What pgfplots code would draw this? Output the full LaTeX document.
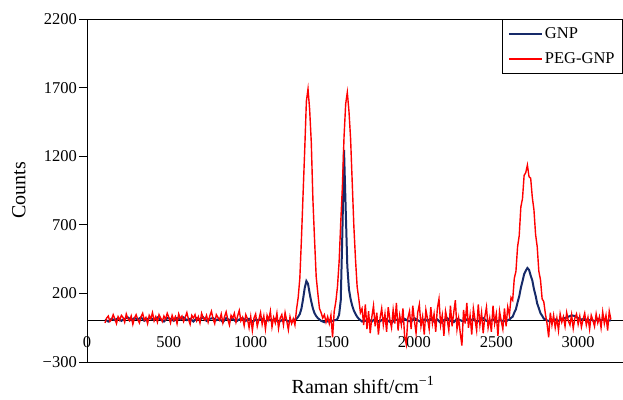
\documentclass[border=0pt]{standalone}
\usepackage{pgfplots}
\pgfplotsset{compat=1.18}
\usepackage{fontspec}
\setmainfont{Liberation Serif}
\definecolor{gnp}{RGB}{22,42,105}
\definecolor{peg}{RGB}{255,0,0}
\newcommand{\fs}{\fontsize{16.5bp}{19bp}\selectfont}
\newcommand{\fl}{\fontsize{20bp}{23bp}\selectfont}
\begin{document}
\begin{tikzpicture}
\useasboundingbox (-87bp,-38bp) rectangle (536bp,362bp);
\begin{axis}[
  scale only axis, width=536bp, height=343bp,
  at={(0,0)}, anchor=south west,
  xmin=0, xmax=3274, ymin=-300, ymax=2200,
  axis y line=left, axis x line=middle,
  axis line style={-, line width=0.9bp, black},
  hide obscured x ticks=false,
  hide obscured y ticks=false,
  xtick={0,500,1000,1500,2000,2500,3000},
  xticklabels={0,500,1000,1500,2000,2500,3000},
  ytick={-300,200,700,1200,1700,2200},
  yticklabels={−300,200,700,1200,1700,2200},
  xtick style={draw=none},
  ytick style={line width=0.9bp, black},
  tick align=outside,
  major tick length=8bp,
  tick label style={font=\fs},
  xticklabel style={yshift=-4bp},
  yticklabel style={inner xsep=2bp},
  xlabel={Raman shift/cm\textsuperscript{−1}},
  ylabel={Counts},
  label style={font=\fl},
  xlabel style={at={(axis description cs:0.515,0)}, anchor=center, yshift=-23bp},
  ylabel style={at={(axis description cs:-0.127,0.5)}, anchor=center},
  legend style={at={(rel axis cs:1,1)}, anchor=north east, draw=black, line width=0.8bp,
    font=\fs, inner xsep=6bp, inner ysep=6bp, row sep=9bp, fill=white},
  legend cell align=left,
  legend image code/.code={\draw[#1] (0bp,0bp) -- (33bp,0bp);},
  clip=true,
]
\addplot[gnp, line width=2bp] coordinates {
(110,10)(130,-5)(150,15)(170,5)(190,20)(210,0)(230,15)(250,25)(270,5)(290,20)
(310,10)(330,25)(350,0)(370,15)(390,20)(410,5)(430,25)(450,10)(470,-5)(490,20)
(510,15)(530,0)(550,20)(570,10)(590,25)(610,5)(630,15)(650,-5)(670,20)(690,10)
(710,25)(730,0)(750,15)(770,20)(790,5)(810,15)(830,-10)(850,20)(870,5)(890,15)
(910,-5)(930,10)(950,20)(970,0)(990,15)(1010,-10)(1030,10)(1050,5)(1070,15)(1090,-5)
(1110,10)(1130,0)(1150,15)(1170,-10)(1190,5)(1210,10)(1230,-5)(1250,0)
(1260,0)(1270,10)(1280,15)(1290,30)(1300,50)(1310,90)(1320,160)(1330,240)(1340,290)(1350,270)
(1360,200)(1370,140)(1380,90)(1390,55)(1400,35)(1410,20)(1420,10)(1430,0)(1440,-5)(1450,-10)
(1460,0)(1470,-5)(1480,5)(1490,-5)(1500,0)(1510,5)(1520,5)(1530,15)(1540,45)(1550,150)
(1560,650)(1570,1245)(1580,820)(1590,400)(1600,230)(1610,160)(1620,110)(1630,75)(1640,50)(1650,30)
(1660,15)(1670,5)(1680,-5)(1700,0)
(1720,10)(1740,-5)(1760,15)(1780,-10)(1800,5)(1820,20)(1840,0)(1860,-15)(1880,10)(1900,5)
(1920,-10)(1940,15)(1960,0)(1980,-5)(2000,20)(2020,5)(2040,-10)(2060,10)(2080,0)(2100,15)
(2120,-5)(2140,10)(2160,-15)(2180,5)(2200,20)(2220,0)(2240,-10)(2260,15)(2280,5)(2300,-5)
(2320,10)(2340,0)(2360,15)(2380,-10)(2400,5)(2420,20)(2440,0)(2460,-5)(2480,10)(2500,-10)
(2520,5)(2540,0)(2560,-5)(2570,5)(2580,10)
(2590,22)(2600,30)(2610,60)(2620,85)(2630,135)(2640,178)(2650,240)(2660,288)(2670,340)(2680,365)
(2690,385)(2700,372)(2710,330)(2720,295)(2730,232)(2740,185)(2750,126)(2760,92)(2770,55)(2780,38)
(2790,16)(2800,12)(2810,3)
(2820,0)(2840,-5)(2860,10)(2880,0)(2900,15)(2920,20)(2940,30)(2960,40)(2980,35)(3000,20)
(3020,10)(3040,15)(3060,0)(3080,10)(3100,-5)(3120,15)(3140,5)(3160,10)(3180,0)(3200,5)
};
\addlegendentry{GNP}
\addplot[peg, line width=1.4bp] coordinates {
(110,-15)(120,20)(130,35)(140,-5)(150,10)(160,45)(170,15)(180,-20)(190,30)(200,5)
(210,40)(220,25)(230,-10)(240,50)(250,15)(260,0)(270,35)(280,-25)(290,20)(300,45)
(310,10)(320,-15)(330,30)(340,55)(350,5)(360,25)(370,-20)(380,40)(390,15)(400,60)
(410,0)(420,30)(430,-10)(440,45)(450,20)(460,-5)(470,35)(480,10)(490,55)(500,25)
(510,-15)(520,40)(530,5)(540,30)(550,-20)(560,50)(570,15)(580,35)(590,-5)(600,25)
(610,60)(620,10)(630,-25)(640,40)(650,20)(660,45)(670,0)(680,30)(690,-15)(700,55)
(710,20)(720,5)(730,40)(740,-10)(750,35)(760,70)(770,15)(780,-20)(790,45)(800,25)
(810,5)(820,50)(830,-15)(840,30)(850,65)(860,10)(870,-30)(880,40)(890,20)(900,55)
(910,-10)(920,35)(930,75)(940,0)(950,25)(960,-35)(970,45)(980,15)(990,-50)(1000,30)
(1010,-70)(1020,20)(1030,50)(1040,-40)(1050,10)(1060,60)(1070,-25)(1080,35)(1090,-60)(1100,40)
(1110,5)(1120,70)(1130,-45)(1140,25)(1150,-15)(1160,55)(1170,-55)(1180,20)(1190,45)(1200,-30)
(1210,60)(1220,0)(1230,-65)(1240,30)(1250,-20)(1260,15)(1270,-30)(1280,85)(1290,170)(1300,310)
(1310,600)(1320,930)(1330,1250)(1340,1600)(1350,1690)(1360,1540)(1370,1300)(1380,880)(1390,590)(1400,320)
(1410,200)(1420,90)(1430,60)(1440,20)(1450,45)(1460,-10)(1470,30)(1480,-20)(1490,40)(1500,-120)
(1510,70)(1520,140)(1530,250)(1540,430)(1550,720)(1560,980)(1570,1340)(1580,1580)(1590,1665)(1600,1530)
(1610,1330)(1620,1010)(1630,690)(1640,450)(1650,250)(1660,160)(1670,60)(1680,90)(1690,-30)(1700,120)
(1710,-60)(1720,70)(1730,-90)(1740,30)(1750,110)(1760,-40)(1770,60)(1780,-100)(1790,20)(1800,90)
(1810,-30)(1820,50)(1830,-80)(1840,100)(1850,10)(1860,-50)(1870,80)(1880,-20)(1890,130)(1900,-70)
(1910,40)(1920,-30)(1930,90)(1940,-110)(1950,-170)(1960,20)(1970,70)(1980,-60)(1990,110)(2000,0)
(2010,-90)(2020,60)(2030,120)(2040,-40)(2050,30)(2060,-100)(2070,80)(2080,15)(2090,-60)(2100,100)
(2110,-20)(2120,50)(2130,-80)(2140,90)(2150,160)(2160,-30)(2170,40)(2180,-110)(2190,70)(2200,10)
(2210,-70)(2220,110)(2230,-40)(2240,60)(2250,150)(2260,-60)(2270,20)(2280,-90)(2290,-180)(2300,80)
(2310,-20)(2320,130)(2330,-50)(2340,40)(2350,-100)(2360,90)(2370,10)(2380,-70)(2390,120)(2400,-30)
(2410,60)(2420,-90)(2430,30)(2440,100)(2450,-50)(2460,20)(2470,-80)(2480,110)(2490,-20)(2500,50)
(2510,-110)(2520,70)(2530,0)(2540,-60)(2550,90)(2560,-40)(2570,100)(2580,40)(2590,170)(2600,150)
(2610,310)(2620,360)(2630,540)(2640,620)(2650,830)(2660,890)(2670,1060)(2680,1080)(2690,1135)(2700,1050)
(2710,1040)(2720,900)(2730,810)(2740,630)(2750,540)(2760,360)(2770,300)(2780,160)(2790,140)(2800,50)
(2810,-20)(2820,-120)(2830,60)(2840,-30)(2850,40)(2860,-50)(2870,20)(2880,-70)(2890,50)(2900,-10)
(2910,30)(2920,-40)(2930,60)(2940,0)(2950,-30)(2960,45)(2970,-55)(2980,20)(2990,50)(3000,-25)
(3010,35)(3020,-45)(3030,10)(3040,55)(3050,-30)(3060,25)(3070,-60)(3080,40)(3090,5)(3100,-40)
(3110,50)(3120,-15)(3130,30)(3140,-50)(3150,65)(3160,-20)(3170,40)(3180,-70)(3190,70)(3200,10)
};
\addlegendentry{PEG-GNP}
\draw[line width=0.9bp, black] (rel axis cs:0,1) -- (rel axis cs:1,1);
\draw[line width=0.9bp, black] (rel axis cs:0,0) -- (rel axis cs:1,0);
\end{axis}
\end{tikzpicture}
\end{document}
